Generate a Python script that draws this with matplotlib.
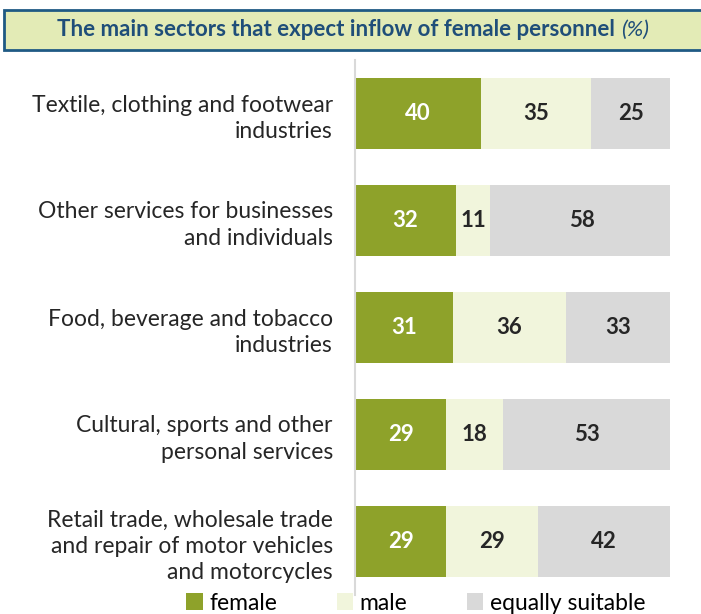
import matplotlib.pyplot as plt
from matplotlib.patches import Rectangle

sectors = [
    "Textile, clothing and footwear\nindustries",
    "Other services for businesses\nand individuals",
    "Food, beverage and tobacco\nindustries",
    "Cultural, sports and other\npersonal services",
    "Retail trade, wholesale trade\nand repair of motor vehicles\nand motorcycles",
]
female = [40, 32, 31, 29, 29]
male = [35, 11, 36, 18, 29]
equal = [25, 58, 33, 53, 42]
series_names = ["female", "male", "equally suitable"]

colors = ["#8ea22a", "#f1f5dc", "#d9d9d9"]
text_colors = ["white", "#262626", "#262626"]

plt.rcParams["font.family"] = ["Lato", "DejaVu Sans"]

fig = plt.figure(figsize=(7.01, 6.14), dpi=100)
ax = fig.add_axes([355 / 701, 19 / 614, 315 / 701, 535 / 614])

ypos = list(range(len(sectors)))
left = [0] * len(sectors)
for vals, c, tc, name in zip([female, male, equal], colors, text_colors, series_names):
    bars = ax.barh(ypos, vals, left=left, height=0.665, color=c, label=name)
    for b, v in zip(bars, vals):
        ax.text(b.get_x() + b.get_width() / 2, b.get_y() + b.get_height() / 2, str(v),
                ha="center", va="center", color=tc, fontsize=16, fontweight="bold")
    left = [l + v for l, v in zip(left, vals)]

ax.set_xlim(0, 100)
ax.set_ylim(len(sectors) - 0.5, -0.5)
ax.set_yticks(ypos)
ax.set_yticklabels(sectors, fontsize=16.5, color="#262626", ha="right", linespacing=1.3)
ax.tick_params(axis="y", length=0, pad=16)
ax.set_xticks([])
for s in ["top", "right", "bottom"]:
    ax.spines[s].set_visible(False)
ax.spines["left"].set_color("#d9d9d9")
ax.spines["left"].set_linewidth(1.5)

# title box
fig.patches.append(Rectangle((4 / 701, 1 - 50 / 614), 1.0, 40 / 614, transform=fig.transFigure,
                             facecolor="#e3ebb6", edgecolor="#1f5a84", linewidth=2, zorder=0))
t1 = fig.text(57 / 701, 1 - 30 / 614, "The main sectors that expect inflow of female personnel",
              ha="left", va="center", fontsize=16, fontweight="bold", color="#1f4e79")
r = fig.canvas.get_renderer()
bb = t1.get_window_extent(renderer=r)
fig.text(bb.x1 / fig.bbox.width + 6 / 701, 1 - 30 / 614, "(%)", ha="left", va="center",
         fontsize=16, fontstyle="italic", color="#1f4e79")

handles, labels = ax.get_legend_handles_labels()
fig.legend(handles, labels, loc="center", bbox_to_anchor=(416 / 701, 1 - 603 / 614), ncol=3,
           frameon=False, fontsize=16.5, handlelength=0.7, handleheight=0.7, handletextpad=0.3,
           columnspacing=2.6, borderpad=0)

fig.savefig("out.png", dpi=100)
